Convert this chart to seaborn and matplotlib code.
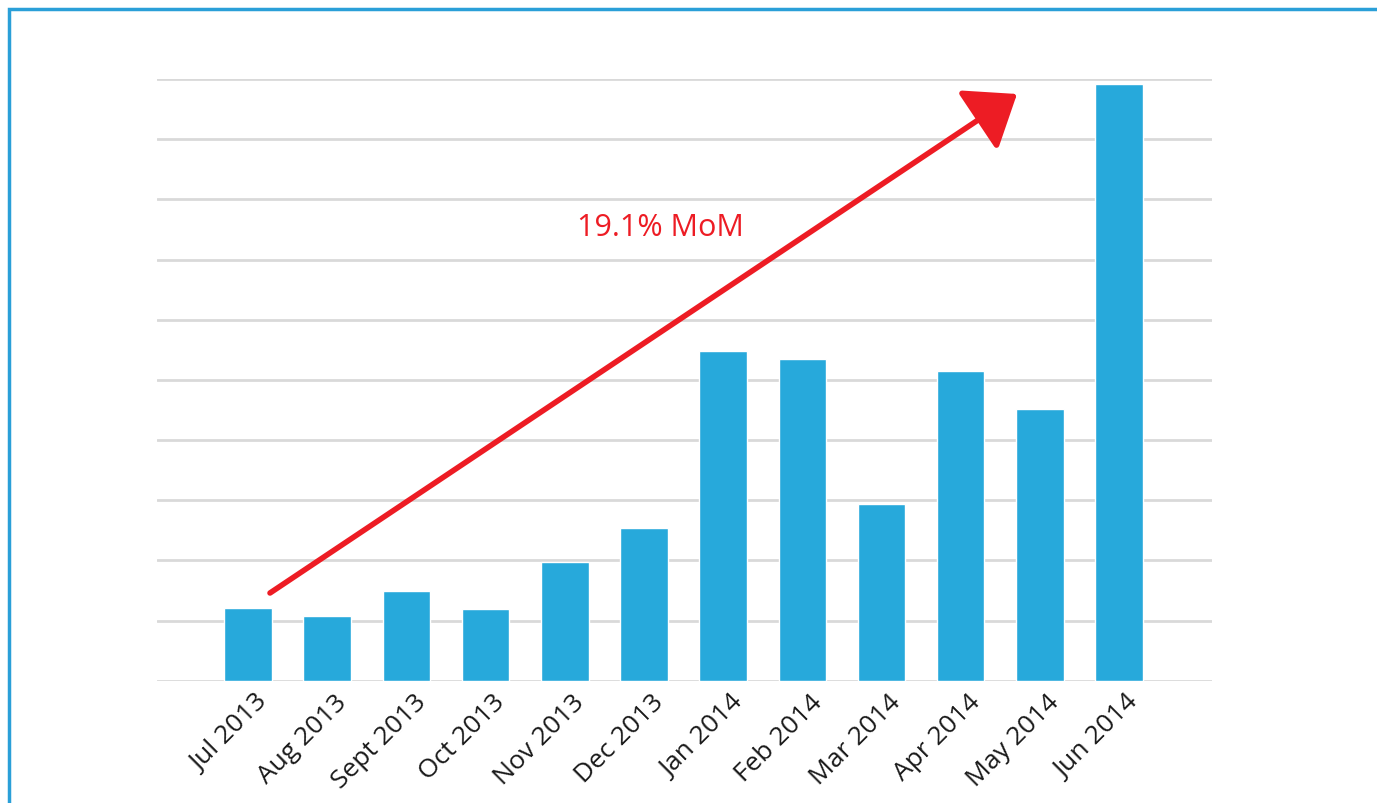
import matplotlib
matplotlib.use('Agg')
import matplotlib.pyplot as plt
import matplotlib.transforms as mtransforms
from matplotlib.patches import Rectangle, FancyArrowPatch
import seaborn as sns
import pandas as pd

MESES = ['Jul 2013', 'Aug 2013', 'Sept 2013', 'Oct 2013', 'Nov 2013', 'Dec 2013',
         'Jan 2014', 'Feb 2014', 'Mar 2014', 'Apr 2014', 'May 2014', 'Jun 2014']
VALORES = [1.21, 1.08, 1.50, 1.20, 1.98, 2.54, 5.48, 5.35, 2.94, 5.15, 4.52, 9.92]
ROTULO_SETA = '19.1% MoM'

AZUL = '#27a9db'
VERMELHO = '#ed1c24'

sns.set_theme(style='white')
plt.rcParams['font.family'] = ['Open Sans', 'DejaVu Sans']

df = pd.DataFrame({'mes': MESES, 'valor': VALORES})

fig = plt.figure(figsize=(13.77, 8.04), dpi=100)
ax = fig.add_axes([0.114, 0.152, 0.766, 0.7485])

sns.barplot(data=df, x='mes', y='valor', color=AZUL, saturation=1, width=0.6, ax=ax)

ax.set_xlim(-1.15, 12.17)
ax.set_ylim(0, 10)
ax.set_yticks(range(0, 11))
ax.yaxis.grid(True, color='#d9d9d9', linewidth=2)
ax.set_axisbelow(True)
ax.tick_params(axis='y', left=False, labelleft=False)
ax.tick_params(axis='x', bottom=False, pad=0)
for lado in ['top', 'right', 'left', 'bottom']:
    ax.spines[lado].set_visible(False)
ax.set_xlabel('')
ax.set_ylabel('')

desloc = mtransforms.ScaledTranslation(7 / 100, 0, fig.dpi_scale_trans)
for rot in ax.get_xticklabels():
    rot.set_rotation(45)
    rot.set_ha('right')
    rot.set_va('top')
    rot.set_rotation_mode('anchor')
    rot.set_fontsize(19)
    rot.set_color('#1a1a1a')
    rot.set_transform(rot.get_transform() + desloc)

# seta de crescimento
seta = FancyArrowPatch((270 / 1377, 1 - 594 / 804), (1017 / 1377, 1 - 95 / 804),
                       transform=fig.transFigure, arrowstyle='-|>,head_length=2.1,head_width=1.6',
                       color=VERMELHO, linewidth=4, mutation_scale=14, shrinkA=0, shrinkB=0)
fig.patches.append(seta)
fig.text(660 / 1377, 1 - 228 / 804, ROTULO_SETA, color=VERMELHO, fontsize=22,
         ha='center', va='center')

# moldura azul (recortada à direita e embaixo)
fig.patches.append(Rectangle((9 / 1377, -0.1), 1.2, 1 - 10 / 804 + 0.1, transform=fig.transFigure,
                             fill=False, edgecolor='#2a9fd8', linewidth=2.5))

fig.savefig('out.png', dpi=100)
